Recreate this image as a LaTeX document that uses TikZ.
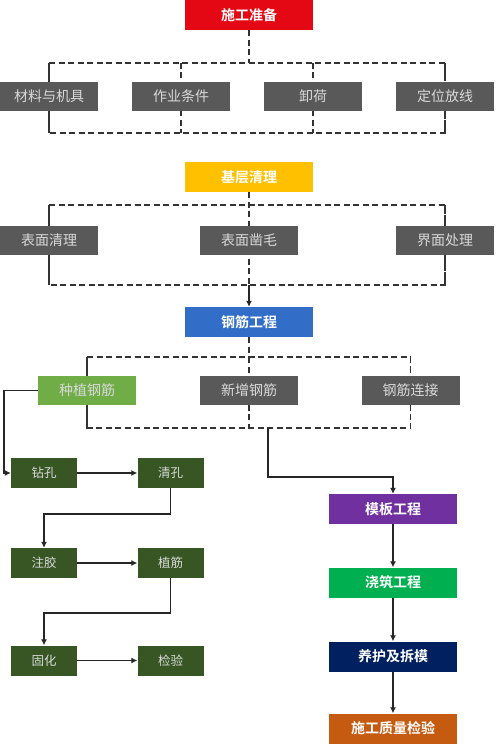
\documentclass[tikz,border=0pt]{standalone}
\usepackage{fontspec}
\setmainfont{Noto Sans CJK SC}[BoldFont={Noto Sans CJK SC Bold}]
\usetikzlibrary{arrows.meta,backgrounds}
\definecolor{prepred}{RGB}{228,8,20}
\definecolor{baseyellow}{RGB}{255,192,0}
\definecolor{rebarblue}{RGB}{50,110,200}
\definecolor{plantgreen}{RGB}{112,173,71}
\definecolor{stepgreen}{RGB}{55,86,35}
\definecolor{boxgray}{RGB}{89,89,89}
\definecolor{formpurple}{RGB}{112,48,160}
\definecolor{pourgreen}{RGB}{0,176,80}
\definecolor{curenavy}{RGB}{0,32,96}
\definecolor{qualorange}{RGB}{197,90,17}
\tikzset{
  head/.style={fill=#1, text=white, font=\fontsize{14}{16}\selectfont\bfseries,
    minimum width=128pt, minimum height=30pt, inner sep=0pt},
  item/.style={fill=boxgray, text=white!85!black, font=\fontsize{14}{16}\selectfont,
    minimum width=98pt, minimum height=29pt, inner sep=0pt},
  stepbox/.style={fill=stepgreen, text=white!85!black, font=\fontsize{12.5}{15}\selectfont,
    minimum width=66pt, minimum height=30pt, inner sep=0pt},
  dline/.style={line width=1.1pt, draw=black!80, dash pattern=on 6pt off 3.5pt},
  sline/.style={line width=1.1pt, draw=black!85},
  arr/.style={sline, -{Latex[length=6pt,width=6pt]}}
}
\begin{document}
\begin{tikzpicture}[x=1pt,y=-1pt]
      \useasboundingbox (0,0) rectangle (500,746);
      % stage 1
      \node[head=prepred] (prep) at (249,15) {施工准备};
      \node[item] (mat) at (49,96.5) {材料与机具};
      \node[item] (cond) at (181,96.5) {作业条件};
      \node[item] (unload) at (313,96.5) {卸荷};
      \node[item] (lay) at (445,96.5) {定位放线};
      % stage 2
      \node[head=baseyellow] (base) at (249,177) {基层清理};
      \node[item] (surf) at (49,240.5) {表面清理};
      \node[item] (rough) at (249,240.5) {表面凿毛};
      \node[item] (iface) at (445,240.5) {界面处理};
      % stage 3
      \node[head=rebarblue] (rebar) at (249,322) {钢筋工程};
      \node[item, fill=plantgreen] (plant) at (87,390.5) {种植钢筋};
      \node[item] (new) at (249,390.5) {新增钢筋};
      \node[item] (joint) at (410.5,390.5) {钢筋连接};
      % planting steps
      \node[stepbox] (drill) at (44,473) {钻孔};
      \node[stepbox] (clean) at (170.5,473) {清孔};
      \node[stepbox] (inject) at (44,563) {注胶};
      \node[stepbox] (embed) at (170.5,563) {植筋};
      \node[stepbox] (cure) at (44,660.5) {固化};
      \node[stepbox] (check) at (170.5,660.5) {检验};
      % later stages
      \node[head=formpurple] (form) at (393,509) {模板工程};
      \node[head=pourgreen] (pour) at (393,582.5) {浇筑工程};
      \node[head=curenavy] (maint) at (393,656.5) {养护及拆模};
      \node[head=qualorange] (qual) at (393,728.5) {施工质量检验};
      \coordinate (t1) at (249,63);
      \coordinate (b1) at (249,133);
      \coordinate (t2) at (249,205);
      \coordinate (b2) at (249,285);
      \coordinate (t3) at (249,357);
      \coordinate (b3) at (268,428);
      \begin{scope}[on background layer]
        \draw[dline] (prep) -- (t1);
        \draw[dline] (mat.center |- t1) -- (lay.center |- t1) -- (lay.center |- b1)
          -- (mat.center |- b1) -- cycle;
        \foreach \n in {mat, cond, unload, lay}
          \draw[dline] (\n.center |- t1) -- (\n.center |- b1);
        \draw[dline] (base) -- (b2);
        \draw[dline] (surf.center |- t2) -- (iface.center |- t2) -- (iface.center |- b2)
          -- (surf.center |- b2) -- cycle;
        \draw[dline] (surf.center |- t2) -- (surf.center |- b2);
        \draw[dline] (iface.center |- t2) -- (iface.center |- b2);
        \draw[dline] (rebar) -- (t3);
        \draw[dline] (plant.center |- t3) -- (joint.center |- t3) -- (joint.center |- b3)
          -- (plant.center |- b3) -- cycle;
        \foreach \n in {plant, new, joint}
          \draw[dline] (\n.center |- t3) -- (\n.center |- b3);
      \end{scope}
      \begin{scope}[arr]
        \draw (b2) -- (rebar);
        \draw (plant.west) -- (4,390.5) |- (drill.west);
        \draw (drill) -- (clean);
        \draw (clean.south) -- (170.5,514) -| (inject.north);
        \draw (inject) -- (embed);
        \draw (embed.south) -- (170.5,613) -| (cure.north);
        \draw (cure) -- (check);
        \draw (b3) -- (268,477) -| (form.north);
        \draw (form) -- (pour);
        \draw (pour) -- (maint);
        \draw (maint) -- (qual);
      \end{scope}
    \end{tikzpicture}
\end{document}
